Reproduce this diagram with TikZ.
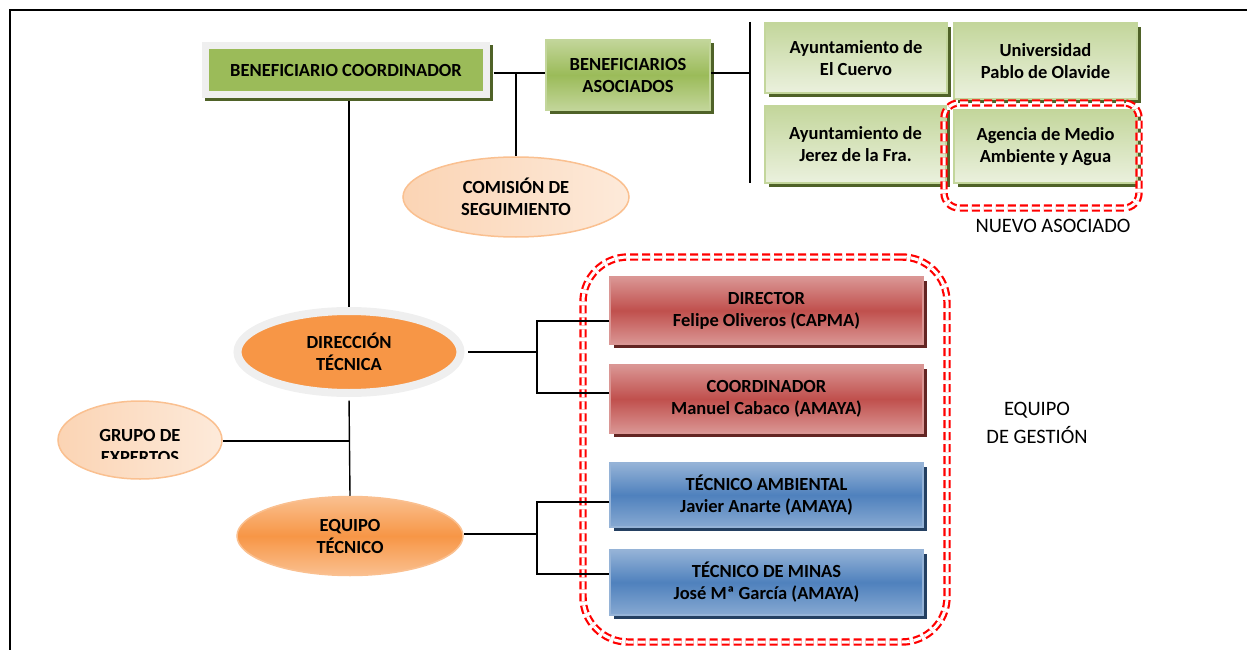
\documentclass[tikz,border=0pt]{standalone}
\usepackage{fontspec}
\setmainfont{Carlito}
\usetikzlibrary{shapes.geometric,shadows}

\definecolor{oliveshadow}{HTML}{4F6228}
\definecolor{coordgreen}{HTML}{9BBB59}
\definecolor{midgreen}{HTML}{C3D69B}
\definecolor{palegreen}{HTML}{EBF1DE}
\definecolor{framegray}{HTML}{EFEFEF}
\definecolor{redmid}{HTML}{C0504D}
\definecolor{redlight}{HTML}{DA9694}
\definecolor{redshadow}{HTML}{632523}
\definecolor{bluemid}{HTML}{4F81BD}
\definecolor{bluelight}{HTML}{95B3D7}
\definecolor{blueshadow}{HTML}{244062}
\definecolor{orangemid}{HTML}{F79646}
\definecolor{orangelight}{HTML}{FAC090}
\definecolor{peach}{HTML}{FBD4B4}
\definecolor{peachpale}{HTML}{FDEADA}

\tikzset{
  lbl/.style={font=\bfseries\fontsize{18.5}{22}\selectfont, align=center, inner sep=0pt},
  plain/.style={font=\fontsize{20.5}{28}\selectfont, align=center, inner sep=0pt},
  greenbox/.style={lbl, rectangle, draw=midgreen, line width=1.5pt,
    top color=midgreen, bottom color=palegreen,
    general shadow={fill=oliveshadow, shadow xshift=4pt, shadow yshift=-4pt}},
  redbox/.style={lbl, rectangle, draw=redlight, line width=1.5pt,
    top color=redlight, bottom color=redlight, middle color=redmid,
    minimum width=313pt,
    general shadow={fill=redshadow, shadow xshift=4pt, shadow yshift=-4pt}},
  bluebox/.style={lbl, rectangle, draw=bluelight, line width=1.5pt,
    top color=bluelight, bottom color=bluelight!80!bluemid, middle color=bluemid,
    minimum width=313pt,
    general shadow={fill=blueshadow, shadow xshift=4pt, shadow yshift=-4pt}},
  peachell/.style={lbl, ellipse, draw=orangelight, line width=1.5pt,
    left color=peach, right color=peachpale},
  orangeell/.style={lbl, ellipse, draw=orangelight, line width=1.5pt,
    top color=orangelight, bottom color=orangelight, middle color=orangemid},
  gestline/.style={rectangle, draw=red, dashed, dash pattern=on 8pt off 4pt,
    double=white, double distance=3pt, line width=2.2pt},
  link/.style={line width=1.4pt}
}

\begin{document}
\begin{tikzpicture}[x=1pt,y=-1pt]
\useasboundingbox (0,0) rectangle (1247,650);

% frame
\draw[line width=2pt] (1247,10) -- (10,10) -- (10,650);

% beneficiarios
\node[lbl, rectangle, fill=coordgreen, draw=framegray, line width=7pt,
  minimum width=281pt, minimum height=49pt,
  general shadow={fill=oliveshadow, draw=oliveshadow, line width=7pt,
    shadow xshift=3pt, shadow yshift=-3pt}] (coord) at (346,70)
  {BENEFICIARIO COORDINADOR};
\node[greenbox, top color=midgreen, bottom color=midgreen, middle color=coordgreen,
  minimum width=164pt, minimum height=71pt] (asoc) at (628,75)
  {BENEFICIARIOS\\ASOCIADOS};

\node[greenbox, minimum width=182pt, minimum height=70pt] (cuervo) at (856,58)
  {Ayuntamiento de\\El Cuervo};
\node[greenbox, minimum width=183pt, minimum height=76pt] (olavide) at (1045.5,61)
  {Universidad\\Pablo de Olavide};
\node[greenbox, minimum width=181pt, minimum height=77pt] (jerez) at (855.5,144.5)
  {Ayuntamiento de\\Jerez de la Fra.};
\node[greenbox, minimum width=183pt, minimum height=73pt] (agencia) at (1045.5,146.5)
  {Agencia de Medio\\Ambiente y Agua};

\node[gestline, rounded corners=15pt, minimum width=195pt, minimum height=105pt]
  (nuevo) at (1041.5,155.5) {};
\node[plain] (nuevolbl) at (1053,226) {NUEVO ASOCIADO};

% organos
\node[peachell, minimum width=226pt, minimum height=80pt] (comision) at (516,197)
  {COMISIÓN DE\\SEGUIMIENTO};
\node[lbl, ellipse, fill=orangemid, draw=framegray, line width=8pt,
  minimum width=223pt, minimum height=82pt] (direccion) at (349,352)
  {DIRECCIÓN\\TÉCNICA};
\node[peachell, minimum width=164pt, minimum height=78pt] (grupo) at (140,440) {};
\begin{scope}
  \clip (0,0) rectangle (1247,458);
  \node[lbl] (grupolbl) at (140,446) {GRUPO DE\\EXPERTOS};
\end{scope}
\node[orangeell, minimum width=226pt, minimum height=79pt] (equipo) at (350,536)
  {EQUIPO\\TÉCNICO};

% equipo de gestion
\node[redbox, minimum height=67pt] (director) at (766.5,310.5)
  {DIRECTOR\\Felipe Oliveros (CAPMA)};
\node[redbox, minimum height=68pt] (coordinador) at (766.5,399)
  {COORDINADOR\\Manuel Cabaco (AMAYA)};
\node[bluebox, minimum height=64pt] (ambiental) at (766.5,495)
  {TÉCNICO AMBIENTAL\\Javier Anarte (AMAYA)};
\node[bluebox, minimum height=65pt] (minas) at (766.5,582.5)
  {TÉCNICO DE MINAS\\José Mª García (AMAYA)};

\node[gestline, rounded corners=45pt, minimum width=364pt, minimum height=385pt]
  (gestion) at (765,449.5) {};
\node[plain] (gestionlbl) at (1037,423) {EQUIPO\\DE GESTIÓN};

% conexiones
\coordinate (j1) at (516,73);
\coordinate (bartop) at (750,22);
\coordinate (barbot) at (750,183);
\coordinate (jdir) at (537,352);
\coordinate (jeq) at (537,534);
\coordinate (jgr) at (349,441);

\draw[link, shorten <=3.5pt] (coord.east |- j1) -- (asoc.west |- j1);
\draw[link] (j1) -- (comision.north);
\draw[link] (asoc.east |- j1) -- (j1 -| bartop);
\draw[link] (bartop) -- (barbot);

\draw[link, shorten <=3.5pt] (coord.south -| direccion.north) -- (direccion.north);
\draw[link, shorten <=3.5pt] (direccion.south) -- (equipo.north);
\draw[link] (grupo.east |- jgr) -- (jgr);

\draw[link, shorten <=3.5pt] (direccion.east) -- (jdir);
\draw[link] (director.west |- 0,321) -| (jdir) |- (coordinador.west |- 0,393);
\draw[link] (equipo.east |- jeq) -- (jeq);
\draw[link] (ambiental.west |- 0,502) -| (jeq) |- (minas.west |- 0,574);
\end{tikzpicture}
\end{document}
